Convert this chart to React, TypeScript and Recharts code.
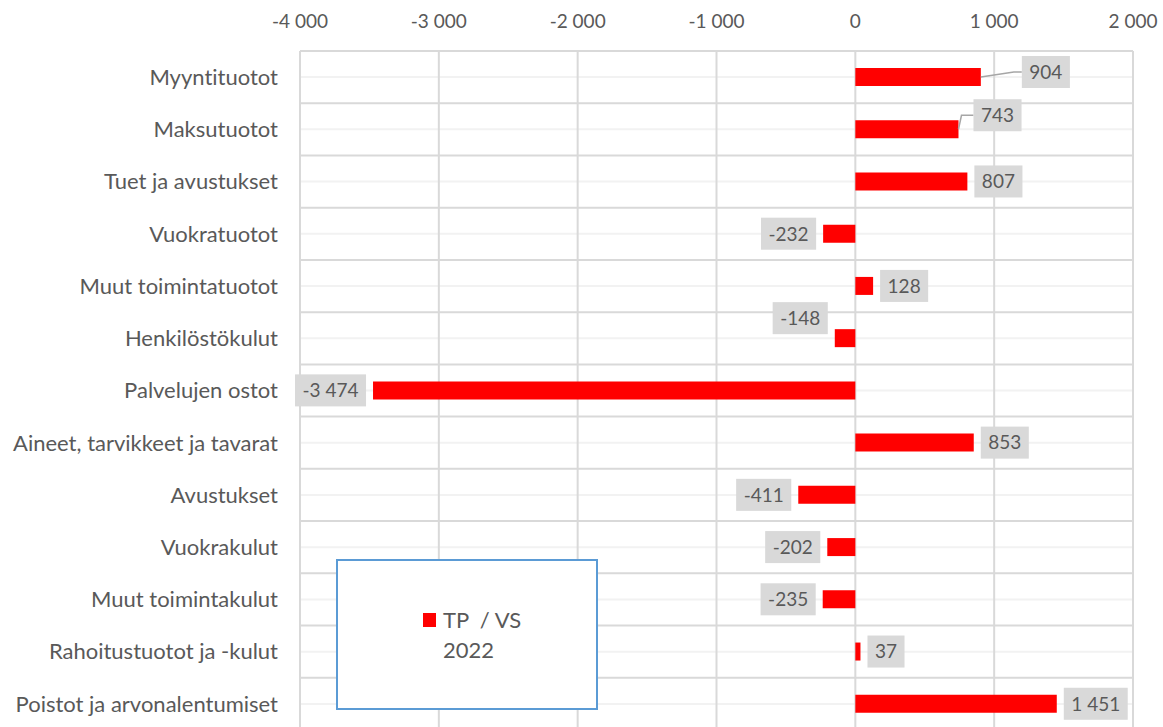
import React from "react";
import { BarChart, Bar, XAxis, YAxis, CartesianGrid, Legend, LabelList } from "recharts";

const categories = [
  "Myyntituotot",
  "Maksutuotot",
  "Tuet ja avustukset",
  "Vuokratuotot",
  "Muut toimintatuotot",
  "Henkilöstökulut",
  "Palvelujen ostot",
  "Aineet, tarvikkeet ja tavarat",
  "Avustukset",
  "Vuokrakulut",
  "Muut toimintakulut",
  "Rahoitustuotot ja -kulut",
  "Poistot ja arvonalentumiset",
];
const values = [904, 743, 807, -232, 128, -148, -3474, 853, -411, -202, -235, 37, 1451];
const xTicks = [-4000, -3000, -2000, -1000, 0, 1000, 2000];
const seriesName = "TP  / VS 2022";

const data = categories.map((name, i) => ({ name, value: values[i] }));

// some labels were dragged by hand in the original, with leader lines
const labelNudges: Record<string, { dx: number; dy: number; leader?: number }> = {
  Myyntituotot: { dx: 34, dy: -5, leader: 8 },
  Maksutuotot: { dx: 8, dy: -14, leader: 12 },
  "Henkilöstökulut": { dx: 0, dy: -20 },
};

const FONT = "Lato, 'Open Sans', sans-serif";
const TEXT = "#595959";

const fmt = (v: number) => {
  const s = Math.abs(Math.round(v)).toString().replace(/\B(?=(\d{3})+(?!\d))/g, " ");
  return (v < 0 ? "-" : "") + s;
};

let ctx: CanvasRenderingContext2D | null = null;
const measure = (t: string, font: string) => {
  if (!ctx) ctx = document.createElement("canvas").getContext("2d");
  if (!ctx) return t.length * 10;
  ctx.font = font;
  return ctx.measureText(t).width;
};

const renderLabel = (props: any) => {
  const { x, y, width, height, value, index } = props;
  const v = Number(value);
  const left = Math.min(x, x + width);
  const right = Math.max(x, x + width);
  const cy = y + height / 2;
  const text = fmt(v);
  const w = measure(text, "19px Lato") + 15;
  const h = 32;
  const n = labelNudges[categories[index]] || { dx: 0, dy: 0 };
  const bx = (v >= 0 ? right + 7 : left - 7 - w) + n.dx;
  const bcy = cy + n.dy;
  return (
    <g>
      {n.leader ? (
        <path
          d={`M${right},${cy} L${bx - n.leader},${bcy} L${bx},${bcy}`}
          fill="none"
          stroke="#a6a6a6"
          strokeWidth={1.5}
        />
      ) : null}
      <rect x={bx} y={bcy - h / 2} width={w} height={h} fill="#d9d9d9" />
      <text
        x={bx + w / 2}
        y={bcy}
        dy="0.36em"
        textAnchor="middle"
        fontSize={19}
        fontFamily={FONT}
        fill={TEXT}
      >
        {text}
      </text>
    </g>
  );
};

const LegendBox = (props: any) => {
  const item = (props.payload && props.payload[0]) || { color: "#ff0000", value: seriesName };
  return (
    <div
      style={{
        position: "relative",
        width: 262,
        height: 151,
        boxSizing: "border-box",
        border: "2px solid #5b9bd5",
        background: "#ffffff",
        fontFamily: FONT,
        fontSize: 22,
        color: TEXT,
      }}
    >
      <div
        style={{
          position: "absolute",
          left: 85,
          top: 52,
          width: 13,
          height: 14,
          background: item.color,
        }}
      />
      <div
        style={{
          position: "absolute",
          left: 105,
          top: 44,
          width: 100,
          lineHeight: "30px",
          whiteSpace: "pre-wrap",
          textAlign: "left",
        }}
      >
        {item.value}
      </div>
    </div>
  );
};

const App: React.FC = () => {
  return (
    <div
      style={{
        position: "absolute",
        left: 0,
        top: 0,
        width: 1163,
        height: 727,
        overflow: "hidden",
        background: "#ffffff",
        fontVariantLigatures: "none",
      }}
    >
      <BarChart
        width={1163}
        height={740}
        data={data}
        layout="vertical"
        margin={{ top: 0, right: 30, bottom: 10, left: 0 }}
      >
        <CartesianGrid stroke="#f2f2f2" strokeWidth={2} vertical={false} />
        <CartesianGrid
          stroke="#d9d9d9"
          strokeWidth={2}
          horizontalCoordinatesGenerator={({ offset }: any) =>
            Array.from({ length: categories.length + 1 }, (_, i) => offset.top + (i * offset.height) / categories.length)
          }
        />
        <XAxis
          type="number"
          orientation="top"
          domain={[-4000, 2000]}
          ticks={xTicks}
          tickFormatter={fmt}
          height={51}
          axisLine={false}
          tickLine={false}
          tickSize={0}
          tickMargin={23}
          tick={{ fill: TEXT, fontSize: 19, fontFamily: FONT }}
          interval={0}
        />
        <YAxis
          type="category"
          dataKey="name"
          width={300}
          axisLine={false}
          tickLine={false}
          tickSize={0}
          tickMargin={22}
          tick={{ fill: TEXT, fontSize: 22, fontFamily: FONT }}
          interval={0}
        />
        <Legend
          layout="horizontal"
          verticalAlign="middle"
          align="center"
          wrapperStyle={{ left: 336, top: 559, width: 262, height: 151 }}
          content={<LegendBox />}
        />
        <Bar dataKey="value" name={seriesName} fill="#ff0000" barSize={18} isAnimationActive={false}>
          <LabelList dataKey="value" content={renderLabel} />
        </Bar>
      </BarChart>
    </div>
  );
};

export default App;
